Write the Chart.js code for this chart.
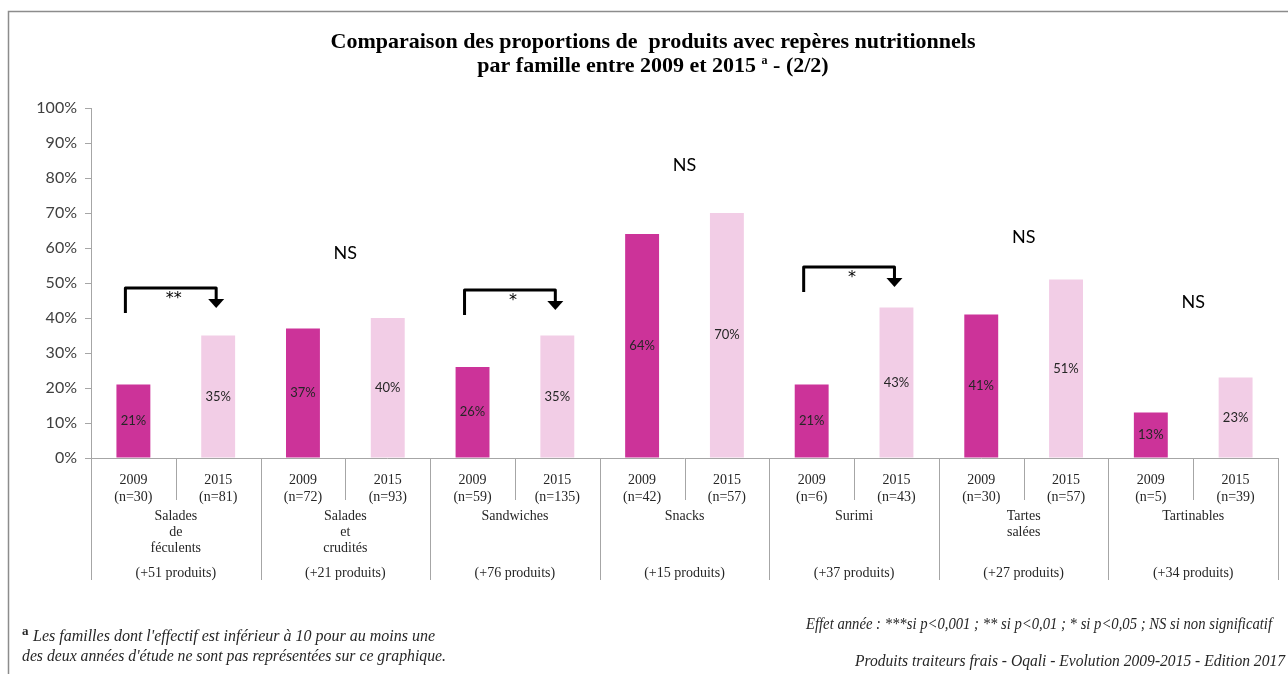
<!DOCTYPE html>
<html>
<head>
<meta charset="utf-8">
<script src="https://cdn.jsdelivr.net/npm/chart.js@4"></script>
<style>
  html, body { margin: 0; padding: 0; background: #fff; }
  #wrap { width: 1288px; height: 674px; position: relative; }
</style>
</head>
<body>
<div id="wrap"><canvas id="chart" width="1288" height="674"></canvas></div>
<script>
// familles et valeurs
const families = [['Salades', 'de', 'féculents'], ['Salades', 'et', 'crudités'], ['Sandwiches'], ['Snacks'], ['Surimi'], ['Tartes', 'salées'], ['Tartinables']];
const values2009 = [21, 37, 26, 64, 21, 41, 13];
const values2015 = [35, 40, 35, 70, 43, 51, 23];
const n2009 = [30, 72, 59, 42, 6, 30, 5];
const n2015 = [81, 93, 135, 57, 43, 57, 39];
const produits = [51, 21, 76, 15, 37, 27, 34];
const sigLabels = ['**', 'NS', '*', 'NS', '*', 'NS', 'NS'];
const sigLevels = [48.6, 58.6, 48, 83.7, 54.6, 63, 44.6];
const yTicks = [0, 10, 20, 30, 40, 50, 60, 70, 80, 90, 100];

const COL_2009 = '#CC3399';
const COL_2015 = '#F2CDE6';
const GRID = '#a6a6a6';

const labels = [];
const values = [];
const colors = [];
families.forEach((f, i) => {
  labels.push(['2009', `(n=${n2009[i]})`]);
  values.push(values2009[i]);
  colors.push(COL_2009);
  labels.push(['2015', `(n=${n2015[i]})`]);
  values.push(values2015[i]);
  colors.push(COL_2015);
});

const decorPlugin = {
  id: 'decor',
  afterDatasetsDraw(chart) {
    const ctx = chart.ctx;
    const x = chart.scales.x;
    const y = chart.scales.y;
    const area = chart.chartArea;
    const half = (x.getPixelForValue(1) - x.getPixelForValue(0)) / 2;

    // cadre
    ctx.save();
    ctx.strokeStyle = '#8c8c8c';
    ctx.lineWidth = 1.5;
    ctx.beginPath();
    ctx.moveTo(8.5, 674);
    ctx.lineTo(8.5, 11.5);
    ctx.lineTo(1288, 11.5);
    ctx.stroke();
    ctx.restore();

    // étiquettes dans les barres
    const meta = chart.getDatasetMeta(0);
    ctx.save();
    ctx.font = '13px Lato';
    ctx.fillStyle = '#262626';
    ctx.textAlign = 'center';
    ctx.textBaseline = 'middle';
    meta.data.forEach((bar, i) => {
      const midY = (bar.y + bar.base) / 2;
      ctx.fillText(values[i] + '%', bar.x, midY);
    });
    ctx.restore();

    // axe horizontal et séparateurs
    ctx.save();
    ctx.strokeStyle = GRID;
    ctx.lineWidth = 1;
    ctx.beginPath();
    ctx.moveTo(area.left, area.bottom + 0.5);
    ctx.lineTo(area.right, area.bottom + 0.5);
    for (let i = 0; i <= labels.length; i++) {
      const px = Math.round(x.getPixelForValue(i) - half) + 0.5;
      const isGroup = i % 2 === 0;
      ctx.moveTo(px, area.bottom);
      ctx.lineTo(px, isGroup ? area.bottom + 122 : area.bottom + 42);
    }
    ctx.stroke();

    // noms des familles
    ctx.font = '14px "Liberation Serif"';
    ctx.fillStyle = '#262626';
    ctx.textAlign = 'center';
    ctx.textBaseline = 'middle';
    families.forEach((lines, g) => {
      const cx = x.getPixelForValue(2 * g) + half;
      lines.forEach((t, k) => ctx.fillText(t, cx, area.bottom + 58 + k * 16));
      ctx.fillText(`(+${produits[g]} produits)`, cx, area.bottom + 115);
    });
    ctx.restore();

    // significativité
    ctx.save();
    families.forEach((f, g) => {
      const cx = x.getPixelForValue(2 * g) + half;
      const level = y.getPixelForValue(sigLevels[g]);
      ctx.fillStyle = '#000';
      if (sigLabels[g] === 'NS') {
        ctx.font = '18px Lato';
        ctx.textAlign = 'center';
        ctx.textBaseline = 'middle';
        ctx.fillText('NS', cx, level);
        return;
      }
      const x0 = x.getPixelForValue(2 * g) - 8;
      const x1 = x.getPixelForValue(2 * g + 1) - 2;
      ctx.strokeStyle = '#000';
      ctx.lineWidth = 3;
      ctx.lineJoin = 'round';
      ctx.beginPath();
      ctx.moveTo(x0, level + 25);
      ctx.lineTo(x0, level);
      ctx.lineTo(x1, level);
      ctx.lineTo(x1, level + 12);
      ctx.stroke();
      ctx.beginPath();
      ctx.moveTo(x1 - 8, level + 11);
      ctx.lineTo(x1 + 8, level + 11);
      ctx.lineTo(x1, level + 20);
      ctx.closePath();
      ctx.fill();
      ctx.font = '16px "DejaVu Sans"';
      ctx.textAlign = 'center';
      ctx.textBaseline = 'middle';
      ctx.fillText(sigLabels[g], (x0 + x1) / 2 + 3, level + 11);
    });
    ctx.restore();

    // titre et notes
    ctx.save();
    ctx.fillStyle = '#000';
    ctx.textAlign = 'center';
    ctx.textBaseline = 'middle';
    const TF = 'bold 22px "Liberation Serif"';
    ctx.font = TF;
    ctx.fillText('Comparaison des proportions de  produits avec repères nutritionnels', 653, 42);
    const l2a = 'par famille entre 2009 et 2015 ';
    const l2b = ' - (2/2)';
    const wA = ctx.measureText(l2a).width;
    const wB = ctx.measureText(l2b).width;
    ctx.font = 'bold 12px "Liberation Serif"';
    const wS = ctx.measureText('a').width;
    const start = 653 - (wA + wS + wB) / 2;
    ctx.textAlign = 'left';
    ctx.font = TF;
    ctx.fillText(l2a, start, 66);
    ctx.fillText(l2b, start + wA + wS, 66);
    ctx.font = 'bold 12px "Liberation Serif"';
    ctx.fillText('a', start + wA, 61);

    ctx.fillStyle = '#262626';
    ctx.font = 'bold 13px "Liberation Serif"';
    ctx.fillText('a', 22, 632);
    ctx.font = 'italic 16px "Liberation Serif"';
    ctx.fillText("Les familles dont l'effectif est inférieur à 10 pour au moins une", 33, 637, 405);
    ctx.fillText("des deux années d'étude ne sont pas représentées sur ce graphique.", 22, 657, 424);
    ctx.textAlign = 'right';
    ctx.fillText('Effet année : ***si p<0,001 ; ** si p<0,01 ; * si p<0,05 ; NS si non significatif', 1272, 625, 466);
    ctx.fillText('Produits traiteurs frais - Oqali - Evolution 2009-2015 - Edition 2017', 1285, 662, 430);
    ctx.restore();
  }
};

new Chart(document.getElementById('chart'), {
  type: 'bar',
  data: {
    labels,
    datasets: [{
      data: values,
      backgroundColor: colors,
      borderWidth: 0,
      categoryPercentage: 1,
      barPercentage: 0.4
    }]
  },
  options: {
    responsive: false,
    animation: false,
    layout: { padding: { left: 0, right: 10, top: 108, bottom: 0 } },
    plugins: {
      legend: { display: false },
      tooltip: { enabled: false }
    },
    scales: {
      x: {
        grid: { display: false },
        border: { display: false },
        ticks: {
          color: '#262626',
          font: { family: 'Liberation Serif', size: 14 },
          padding: 6,
          maxRotation: 0,
          autoSkip: false
        },
        afterFit(scale) { scale.height = 674 - 458; }
      },
      y: {
        min: 0,
        max: 100,
        afterBuildTicks(scale) { scale.ticks = yTicks.map(v => ({ value: v })); },
        grid: { drawOnChartArea: false, drawTicks: true, tickLength: 6, color: GRID },
        border: { display: true, color: GRID },
        ticks: {
          color: '#404040',
          font: { family: 'Lato', size: 16 },
          padding: 8,
          callback: v => v + '%'
        },
        afterFit(scale) { scale.width = 91; }
      }
    }
  },
  plugins: [decorPlugin]
});
</script>
</body>
</html>
